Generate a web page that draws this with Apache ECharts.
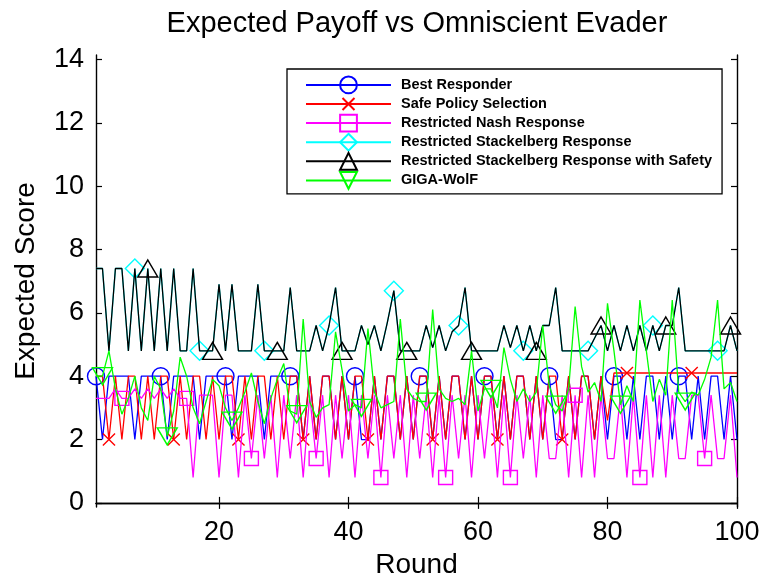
<!DOCTYPE html>
<html>
<head>
<meta charset="utf-8">
<script src="https://cdn.jsdelivr.net/npm/echarts@6/dist/echarts.min.js"></script>
<style>
  html, body { margin: 0; padding: 0; background: #fff; }
  #chart { width: 765px; height: 584px; }
</style>
</head>
<body>
<div id="chart"></div>
<script>
// Rounds 1..100 on the x axis
const rounds = Array.from({ length: 100 }, (_, i) => i + 1);

const xTicks = [20, 40, 60, 80, 100];
const yTicks = [0, 2, 4, 6, 8, 10, 12, 14];

const seriesNames = [
  'Best Responder',
  'Safe Policy Selection',
  'Restricted Nash Response',
  'Restricted Stackelberg Response',
  'Restricted Stackelberg Response with Safety',
  'GIGA-WolF'
];

const bestResponder = [
  4, 2, 4, 4, 4, 4, 2, 4, 4, 4,
  4, 2, 4, 4, 4, 4, 2, 4, 4, 4,
  4, 2, 4, 4, 4, 4, 2, 4, 4, 4,
  4, 4, 2, 4, 2, 4, 4, 2, 4, 2,
  4, 2, 2, 4, 2, 4, 4, 2, 4, 2,
  4, 4, 2, 4, 2, 4, 4, 2, 4, 2,
  4, 4, 2, 4, 2, 4, 4, 2, 4, 2,
  4, 2, 2, 4, 2, 4, 4, 2, 4, 2,
  4, 4, 2, 4, 2, 4, 4, 2, 4, 2,
  4, 4, 2, 4, 2, 4, 4, 2, 4, 2
];

const safePolicy = [
  4, 4, 2, 4, 2, 4, 4, 2, 4, 2,
  4, 4, 2, 4, 2, 4, 4, 2, 4, 2,
  4, 4, 2, 4, 2, 4, 4, 2, 4, 2,
  4, 4, 2, 4, 2, 4, 4, 2, 4, 2,
  4, 4, 2, 4, 2, 4, 4, 2, 4, 2,
  4, 4, 2, 4, 2, 4, 4, 2, 4, 2,
  4, 4, 2, 4, 2, 4, 4, 2, 4, 2,
  4, 4, 2, 4, 2, 4, 4, 2, 4, 2.6,
  4.1, 4.1, 4.1, 4.1, 4.1, 4.1, 4.1, 4.1, 4.1, 4.1,
  4.1, 4.1, 4.1, 4.1, 4.1, 4.1, 4.1, 4.1, 4.1, 4.1
];

const restrictedNash = [
  3.3, 3.3, 3.3, 3.6, 3.3, 3.3, 3.6, 3.3, 3.6, 3.3,
  3.6, 3.3, 3.6, 3.3, 3.3, 0.8, 3.4, 3.4, 3.4, 0.8,
  3.4, 3.4, 0.8, 3.4, 1.4, 3.4, 1.4, 3.4, 0.8, 3.4,
  1.4, 3.4, 0.8, 3.4, 1.4, 3.4, 0.8, 3.4, 1.4, 3.4,
  0.8, 3.4, 1.4, 3.4, 0.8, 3.4, 1.4, 3.4, 0.8, 3.4,
  1.4, 3.4, 0.8, 3.4, 0.8, 3.4, 1.4, 3.4, 0.8, 3.4,
  1.4, 3.4, 0.8, 3.4, 0.8, 3.4, 1.4, 3.4, 0.8, 3.4,
  1.4, 1.4, 3.4, 0.8, 3.4, 0.8, 3.4, 0.8, 3.4, 1.4,
  1.4, 3.4, 0.8, 3.4, 0.8, 3.4, 0.8, 3.4, 0.8, 3.4,
  1.4, 1.4, 3.4, 3.4, 1.4, 3.4, 1.4, 1.4, 3.4, 0.8
];

const restrictedStackelberg = [
  7.4, 7.4, 4.8, 7.4, 7.4, 4.8, 7.4, 4.8, 7.4, 4.8,
  7.4, 4.8, 7.4, 4.8, 4.8, 7.4, 4.8, 4.8, 4.8, 6.9,
  4.8, 6.9, 4.8, 4.8, 4.8, 6.9, 4.8, 4.8, 4.8, 4.8,
  6.8, 4.8, 4.8, 4.8, 5.6, 4.8, 5.6, 6.8, 4.8, 4.8,
  4.8, 5.6, 5.0, 5.6, 4.8, 5.7, 6.7, 4.8, 4.8, 4.8,
  4.8, 5.6, 4.9, 5.6, 4.8, 5.4, 5.6, 6.8, 4.8, 4.8,
  4.8, 4.8, 4.8, 5.6, 4.9, 5.6, 4.8, 5.6, 4.8, 5.6,
  5.6, 6.8, 4.8, 4.8, 4.8, 4.8, 4.8, 5.2, 5.6, 4.8,
  5.6, 4.8, 5.6, 4.8, 5.6, 4.8, 5.6, 4.8, 5.6, 5.6,
  6.8, 4.8, 4.8, 4.8, 4.8, 4.8, 4.8, 4.8, 5.6, 4.8
];

const stackelbergSafety = [
  7.4, 7.4, 4.8, 7.4, 7.4, 4.8, 7.4, 4.8, 7.4, 4.8,
  7.4, 4.8, 7.4, 4.8, 4.8, 7.4, 4.8, 4.8, 4.8, 6.9,
  4.8, 6.9, 4.8, 4.8, 4.8, 6.9, 4.8, 4.8, 4.8, 4.8,
  6.8, 4.8, 4.8, 4.8, 5.6, 4.8, 5.6, 6.8, 4.8, 4.8,
  4.8, 5.6, 5.0, 5.6, 4.8, 5.7, 6.7, 4.8, 4.8, 4.8,
  4.8, 5.6, 4.9, 5.6, 4.8, 5.4, 5.6, 6.8, 4.8, 4.8,
  4.8, 4.8, 4.8, 5.6, 4.9, 5.6, 4.8, 5.6, 4.8, 5.6,
  5.6, 6.8, 4.8, 4.8, 4.8, 4.8, 4.8, 5.2, 5.6, 4.8,
  5.6, 4.8, 5.6, 4.8, 5.6, 4.8, 5.6, 4.8, 5.6, 5.6,
  6.8, 4.8, 4.8, 4.8, 4.8, 4.8, 4.8, 4.8, 5.6, 4.8
];

const gigaWolf = [
  4.0, 4.0, 4.8, 3.6, 2.8, 3.3, 4.0, 3.0, 2.6, 4.0,
  3.6, 2.1, 2.9, 4.6, 4.0, 3.0, 2.5, 3.2, 3.9, 3.7,
  3.0, 2.6, 3.0, 3.5, 4.1, 3.2, 2.5, 3.3, 3.9, 4.4,
  2.9, 2.8, 5.8, 3.2, 2.7, 3.0, 3.1, 5.4, 4.2, 2.9,
  3.1, 3.0, 5.5, 3.5, 3.0, 3.1, 3.2, 5.8, 3.6, 3.3,
  3.2, 3.2, 6.1, 3.6, 3.3, 3.2, 3.3, 3.1, 4.8, 2.9,
  3.6, 3.6, 3.0, 4.9, 3.9, 3.2, 3.6, 3.2, 3.5, 5.6,
  3.7, 3.1, 2.9, 3.6, 6.2, 4.3, 3.5, 3.8, 3.2, 6.3,
  4.8, 3.1, 3.7, 3.2, 6.4, 4.8, 3.2, 3.9, 3.4, 6.4,
  3.5, 3.2, 3.5, 3.4, 3.9, 4.6, 6.4, 3.6, 3.8, 3.2
];

const FONT = 'Liberation Sans, Arial, Helvetica, sans-serif';

// 'x' cross marker; the leading/trailing moves pad its box so the strokes sit inside it
const crossPath = 'path://M-2,-2M0,0L10,10M10,0L0,10M12,12';

// one line per algorithm, with a marker every 10th round (staggered start)
const lineDefs = [
  { values: bestResponder,          color: '#0000ff', symbol: 'circle',   size: 17, first: 0 },
  { values: safePolicy,             color: '#ff0000', symbol: crossPath,  size: 17, first: 2 },
  { values: restrictedNash,         color: '#ff00ff', symbol: 'rect',     size: 14, first: 4 },
  { values: restrictedStackelberg,  color: '#00ffff', symbol: 'diamond',  size: 19, first: 6 },
  { values: stackelbergSafety,      color: '#000000', symbol: 'triangle', size: [20, 17], first: 8 },
  { values: gigaWolf,               color: '#00ff00', symbol: 'triangle', size: [20, 17], first: 1, rotate: 180 }
];

const series = lineDefs.map((d, k) => ({
  name: seriesNames[k],
  type: 'line',
  data: rounds.map((r, i) => {
    const item = { value: [r, d.values[i]] };
    if (i % 10 !== d.first) item.symbol = 'none';
    return item;
  }),
  symbol: d.symbol,
  symbolSize: d.size,
  symbolRotate: d.rotate || 0,
  showSymbol: true,
  showAllSymbol: true,
  lineStyle: { color: d.color, width: 1.3 },
  itemStyle: { color: 'none', borderColor: d.color, borderWidth: 1.4 },
  emphasis: { disabled: true },
  animation: false,
  z: 2 + k
}));

const axisLineStyle = { lineStyle: { color: '#000', width: 1.4 } };
const tickStyle = { inside: true, length: 6, lineStyle: { color: '#000', width: 1.2 } };

const option = {
  backgroundColor: '#fff',
  animation: false,
  title: {
    text: 'Expected Payoff vs Omniscient Evader',
    left: 412,
    top: 4,
    textAlign: 'center',
    textStyle: { fontFamily: FONT, fontSize: 29, fontWeight: 'normal', color: '#000' }
  },
  legend: {
    orient: 'vertical',
    left: 287,
    top: 69,
    data: seriesNames,
    itemWidth: 85,
    itemHeight: 21,
    itemGap: -2.7,
    padding: [5, 10, 2.5, 18],
    backgroundColor: '#fff',
    borderColor: '#000',
    borderWidth: 1.3,
    borderRadius: 0,
    selectedMode: false,
    textStyle: { fontFamily: FONT, fontSize: 14.5, fontWeight: 'bold', color: '#000', padding: [0, 0, 0, 5] }
  },
  grid: { left: 96, right: 28, top: 55, bottom: 77, containLabel: false },
  xAxis: [
    {
      type: 'value', min: 1, max: 100, position: 'bottom',
      name: 'Round', nameLocation: 'middle', nameGap: 44,
      nameTextStyle: { fontFamily: FONT, fontSize: 28, color: '#000' },
      axisLine: axisLineStyle,
      axisTick: Object.assign({ customValues: xTicks }, tickStyle),
      axisLabel: { customValues: xTicks, fontFamily: FONT, fontSize: 27, color: '#000', margin: 12 },
      splitLine: { show: false }
    },
    {
      type: 'value', min: 1, max: 100, position: 'top',
      axisLine: axisLineStyle,
      axisTick: Object.assign({ customValues: xTicks }, tickStyle),
      axisLabel: { show: false },
      splitLine: { show: false }
    }
  ],
  yAxis: [
    {
      type: 'value', min: -0.13, max: 14.14, position: 'left',
      name: 'Expected Score', nameLocation: 'middle', nameGap: 56, nameRotate: 90,
      nameTextStyle: { fontFamily: FONT, fontSize: 28, color: '#000' },
      axisLine: axisLineStyle,
      axisTick: Object.assign({ customValues: yTicks }, tickStyle),
      axisLabel: { customValues: yTicks, fontFamily: FONT, fontSize: 27, color: '#000', margin: 12 },
      splitLine: { show: false }
    },
    {
      type: 'value', min: -0.13, max: 14.14, position: 'right',
      axisLine: axisLineStyle,
      axisTick: Object.assign({ customValues: yTicks }, tickStyle),
      axisLabel: { show: false },
      splitLine: { show: false }
    }
  ],
  series: series
};

const chart = echarts.init(document.getElementById('chart'), null, { renderer: 'canvas' });
chart.setOption(option);
</script>
</body>
</html>
